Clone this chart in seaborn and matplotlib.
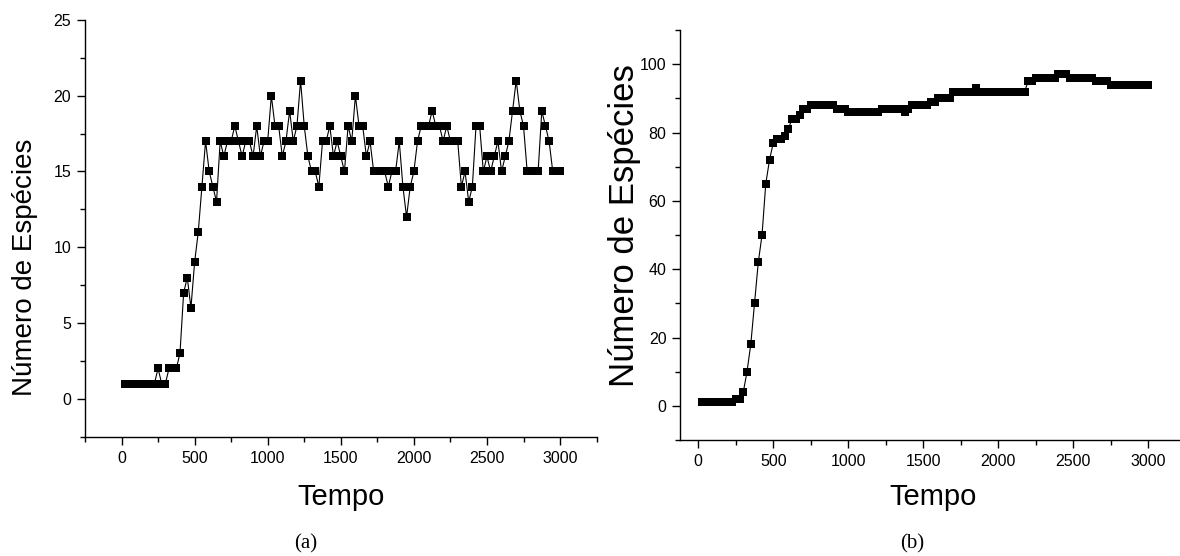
# Numero de especies vs tempo - dois paineis (a) e (b)
import numpy as np
import matplotlib.pyplot as plt
import seaborn as sns
from matplotlib.ticker import MultipleLocator

# Tempo (step of 25).
tempo = np.arange(25, 3001, 25)

# Panel (a): number of species.
especies_a = [
    1, 1, 1, 1, 1, 1, 1, 1, 1, 2, 1, 1, 2, 2, 2, 3, 7, 8, 6, 9,
    11, 14, 17, 15, 14, 13, 17, 16, 17, 17, 18, 17, 16, 17, 17, 16, 18, 16, 17, 17,
    20, 18, 18, 16, 17, 19, 17, 18, 21, 18, 16, 15, 15, 14, 17, 17, 18, 16, 17, 16,
    15, 18, 17, 20, 18, 18, 16, 17, 15, 15, 15, 15, 14, 15, 15, 17, 14, 12, 14, 15,
    17, 18, 18, 18, 19, 18, 18, 17, 18, 17, 17, 17, 14, 15, 13, 14, 18, 18, 15, 16,
    15, 16, 17, 15, 16, 17, 19, 21, 19, 18, 15, 15, 15, 15, 19, 18, 17, 15, 15, 15,
]

# Panel (b): number of species.
especies_b = [
    1, 1, 1, 1, 1, 1, 1, 1, 1, 2, 2, 4, 10, 18, 30, 42, 50, 65, 72, 77,
    78, 78, 79, 81, 84, 84, 85, 87, 87, 88, 88, 88, 88, 88, 88, 88, 87, 87, 87, 86,
    86, 86, 86, 86, 86, 86, 86, 86, 87, 87, 87, 87, 87, 87, 86, 87, 88, 88, 88, 88,
    88, 89, 89, 90, 90, 90, 90, 92, 92, 92, 92, 92, 92, 93, 92, 92, 92, 92, 92, 92,
    92, 92, 92, 92, 92, 92, 92, 95, 95, 96, 96, 96, 96, 96, 96, 97, 97, 97, 96, 96,
    96, 96, 96, 96, 96, 95, 95, 95, 95, 94, 94, 94, 94, 94, 94, 94, 94, 94, 94, 94,
]

sns.set_theme(style="ticks")
plt.rcParams["font.family"] = ["Liberation Sans", "DejaVu Sans"]
plt.rcParams["text.color"] = "black"
plt.rcParams["axes.labelcolor"] = "black"

fig = plt.figure(figsize=(11.8, 5.56), dpi=100)
ax1 = fig.add_axes([0.0720, 0.2146, 0.4336, 0.7495])
ax2 = fig.add_axes([0.5765, 0.2086, 0.4284, 0.7374])

for ax, vals in [(ax1, especies_a), (ax2, especies_b)]:
    sns.lineplot(x=tempo, y=vals, ax=ax, color="black", linewidth=0.8,
                 marker="s", markersize=5.2, markeredgewidth=0, markerfacecolor="black")
    sns.despine(ax=ax)
    for side in ["left", "bottom"]:
        ax.spines[side].set_linewidth(1.0)
        ax.spines[side].set_color("black")
    ax.xaxis.set_major_locator(MultipleLocator(500))
    ax.xaxis.set_minor_locator(MultipleLocator(250))
    ax.tick_params(which="major", direction="out", length=6, width=1.0,
                   labelsize=11.5, colors="black", pad=4)
    ax.tick_params(which="minor", direction="out", length=3.5, width=1.0, colors="black")
    ax.set_xlabel("Tempo", fontsize=21, color="black")
    ax.set_ylabel("Número de Espécies", fontsize=20, color="black")
    ax.yaxis.label.set_va("center")
    ax.xaxis.label.set_va("center")

ax1.set_xlim(-250, 3250)
ax1.set_ylim(-2.5, 25)
ax1.yaxis.set_major_locator(MultipleLocator(5))
ax1.yaxis.set_minor_locator(MultipleLocator(2.5))
ax1.xaxis.set_label_coords(0.5, -0.145)
ax1.yaxis.set_label_coords(-0.117, 0.407)

ax2.set_xlim(-120, 3250)
ax2.set_ylim(-10, 110)
ax2.yaxis.set_major_locator(MultipleLocator(20))
ax2.yaxis.set_minor_locator(MultipleLocator(10))
ax2.xaxis.set_label_coords(0.5, -0.139)
ax2.yaxis.set_label_coords(-0.111, 0.524)
ax2.yaxis.label.set_fontsize(25)

fig.text(306 / 1180, 1 - 544 / 556, "(a)", ha="center", va="center",
         fontsize=15, family=["Liberation Serif", "DejaVu Serif"])
fig.text(912 / 1180, 1 - 544 / 556, "(b)", ha="center", va="center",
         fontsize=15, family=["Liberation Serif", "DejaVu Serif"])

fig.savefig("out.png", dpi=100)
